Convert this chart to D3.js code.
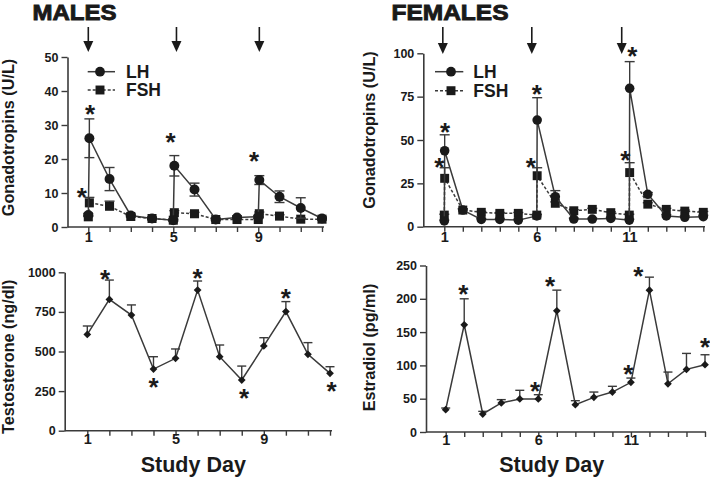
<!DOCTYPE html>
<html><head><meta charset="utf-8">
<script src="https://cdn.jsdelivr.net/npm/d3@7"></script>
<style>body{margin:0;background:#fff}svg{display:block;font-family:"Liberation Sans",Arial,sans-serif}</style>
</head><body>
<script>
// ---------- DATA ----------
const maleDays = [1, 1.05, 2, 3, 4, 5, 5.05, 6, 7, 8, 9, 9.05, 10, 11, 12];
const maleLH = [3.5, 26.1, 14.1, 3.4, 2.5, 2.0, 18.0, 11.0, 2.2, 2.8, 3.0, 13.8, 8.9, 5.6, 2.5];
const maleLHErr = [0.4, 5.7, 3.4, 0.4, 0.3, 0.3, 3.0, 1.9, 0.3, 0.4, 0.4, 1.3, 1.7, 3.0, 0.4];
const maleFSH = [3.0, 7.1, 6.1, 3.1, 2.5, 2.0, 4.2, 3.9, 2.2, 2.2, 2.2, 3.9, 3.2, 2.3, 2.3];
const maleFSHErr = [0.3, 1.6, 1.5, 0.3, 0.3, 0.3, 0.6, 0.4, 0.3, 0.3, 0.3, 0.5, 0.4, 0.3, 0.3];
const maleDoseDays = [1, 5.15, 9.05];
const maleGonStars = [{day:1.08,v:34.4},{day:0.69,v:9.9},{day:4.87,v:26.1},{day:8.8,v:20.6}];

const femaleDays = [1, 1.02, 2, 3, 4, 5, 6, 6.02, 7, 8, 9, 10, 11, 11.02, 12, 13, 14, 15];
const femaleLH = [3.3, 43.8, 9.6, 4.2, 4.2, 3.8, 6.2, 61.5, 17.3, 4.4, 4.4, 4.8, 3.8, 79.8, 18.7, 6.2, 5.4, 5.8];
const femaleLHErr = [0.5, 9.2, 0.8, 0.5, 0.5, 0.5, 0.8, 12.9, 3.5, 0.5, 0.5, 0.5, 0.5, 15.4, 1.0, 0.8, 0.8, 0.8];
const femaleFSH = [6.7, 27.9, 9.6, 8.3, 7.7, 7.7, 6.7, 29.4, 13.5, 9.2, 10.0, 8.1, 6.7, 31.2, 13.0, 10.0, 9.0, 8.3];
const femaleFSHErr = [0.5, 6.1, 0.6, 0.5, 0.5, 0.5, 0.5, 4.6, 0.8, 0.6, 0.6, 0.5, 0.5, 5.7, 0.8, 0.6, 0.6, 0.5];
const femaleDoseDays = [0.92, 5.73, 10.59];
const femaleGonStars = [{day:1.04,v:57.1},{day:0.73,v:36.6},{day:6.0,v:78.8},{day:5.68,v:36.6},{day:11.16,v:100.9},{day:10.78,v:40.8}];

const testoDays = [1,2,3,4,5,6,7,8,9,10,11,12];
const testosterone = [608, 829, 730, 389, 457, 888, 467, 320, 535, 752, 482, 362];
const testoErr = [53, 122, 64, 78, 59, 57, 74, 88, 52, 63, 74, 42];
const testoStars = [{day:1.8,v:983},{day:4,v:299},{day:6,v:987},{day:8.1,v:232},{day:10,v:861},{day:12.07,v:278}];

const estrDays = [1,2,3,4,5,6,7,8,9,10,11,12,13,14,15];
const estradiol = [33.5, 161, 27, 43.6, 49.6, 49.6, 182, 41, 52, 60, 74.6, 213, 72.4, 94, 101];
const estrErr = [2.5, 39, 4, 5, 13, 6.4, 31, 6, 8, 8.6, 6.4, 19.5, 17.6, 24, 15];
const estrStars = [{day:1.95,v:213},{day:5.82,v:68},{day:6.63,v:225.7},{day:10.86,v:93},{day:11.4,v:240.7},{day:15,v:133}];

const maleTickDays = d3.range(1, 13);
const femaleTickDays = d3.range(1, 16);
const maleTickLabels = [1, 5, 9];
const femaleTickLabels = [1, 6, 11];
const gonTicks = [0, 10, 20, 30, 40, 50];
const gonTicksF = [0, 25, 50, 75, 100];
const testoTicks = [0, 250, 500, 750, 1000];
const estrTicks = [0, 50, 100, 150, 200, 250];

// ---------- DRAW ----------
const INK = "#1a1a1a", LINE = "#3a3a3a";
const svg = d3.select("body").append("svg").attr("width", 710).attr("height", 477);

function makeAxes(p) {
  const x = d3.scaleLinear().domain([p.tickDays[0], p.tickDays[p.tickDays.length-1]]).range(p.xr);
  const y = d3.scaleLinear().domain([0, p.yTicks[p.yTicks.length-1]]).range(p.yr);
  const ya = svg.append("g").attr("transform", `translate(${p.yx},0)`)
    .call(d3.axisLeft(y).tickValues(p.yTicks).tickFormat(d3.format("d")).tickSize(6).tickSizeOuter(0).tickPadding(3));
  ya.select(".domain").attr("stroke", LINE).attr("stroke-width", 1.6);
  ya.selectAll(".tick line").attr("stroke", LINE).attr("stroke-width", 1.4);
  ya.selectAll(".tick text").attr("font-size", 12.5).attr("font-weight", "bold").attr("fill", INK)
    .attr("font-family", "Liberation Sans, Arial, sans-serif");
  const xa = svg.append("g").attr("transform", `translate(0,${p.yr[0]})`)
    .call(d3.axisBottom(x).tickValues(p.tickDays).tickSize(5).tickSizeOuter(0)
      .tickFormat(d => p.tickLabels.includes(d) ? String(d) : ""));
  xa.select(".domain").attr("d", `M${p.yx},0H${p.xEnd}`).attr("stroke", LINE).attr("stroke-width", 1.6);
  xa.selectAll(".tick line").attr("stroke", LINE).attr("stroke-width", 1.4);
  xa.selectAll(".tick text").attr("font-size", 14.5).attr("font-weight", "bold").attr("fill", INK)
    .attr("dy", null).attr("y", p.xLabelDY)
    .attr("font-family", "Liberation Sans, Arial, sans-serif");
  svg.append("text").attr("transform", `translate(${p.ylabX},${p.ylabY}) rotate(-90)`)
    .attr("text-anchor", "middle").attr("font-size", 16.2).attr("font-weight", "bold").attr("fill", INK)
    .text(p.ylabel);
  return {x, y};
}

function series(s, days, vals, errs, opts) {
  const {x, y} = s;
  const pts = days.map((d, i) => ({d, v: vals[i], e: errs[i]}));
  const g = svg.append("g");
  pts.forEach(p => {
    const lo = opts.both ? p.v - p.e : p.v;
    g.append("line").attr("x1", x(p.d)).attr("x2", x(p.d)).attr("y1", y(lo)).attr("y2", y(p.v + p.e))
      .attr("stroke", LINE).attr("stroke-width", 1.4);
    g.append("line").attr("x1", x(p.d) - opts.cap).attr("x2", x(p.d) + opts.cap)
      .attr("y1", y(p.v + p.e)).attr("y2", y(p.v + p.e)).attr("stroke", LINE).attr("stroke-width", 1.4);
    if (opts.both) g.append("line").attr("x1", x(p.d) - opts.cap).attr("x2", x(p.d) + opts.cap)
      .attr("y1", y(lo)).attr("y2", y(lo)).attr("stroke", LINE).attr("stroke-width", 1.4);
  });
  svg.append("path").datum(pts)
    .attr("d", d3.line().x(p => x(p.d)).y(p => y(p.v)))
    .attr("fill", "none").attr("stroke", LINE).attr("stroke-width", 1.5)
    .attr("stroke-dasharray", opts.dash || null);
  svg.append("g").selectAll("path").data(pts).join("path")
    .attr("transform", p => `translate(${x(p.d)},${y(p.v)})${opts.rot ? " rotate(45)" : ""}`)
    .attr("d", d3.symbol().type(opts.sym).size(opts.size))
    .attr("fill", INK);
}

function stars(s, list, size) {
  svg.append("g").selectAll("text").data(list).join("text")
    .attr("x", d => s.x(d.day)).attr("y", d => s.y(d.v) + size * 0.5)
    .attr("text-anchor", "middle").attr("font-size", size).attr("font-weight", "bold").attr("fill", INK)
    .text("*");
}

function arrows(s, days, y0, y1) {
  days.forEach(d => {
    const cx = s.x(d);
    svg.append("line").attr("x1", cx).attr("x2", cx).attr("y1", y0).attr("y2", y1 - 8)
      .attr("stroke", INK).attr("stroke-width", 1.6);
    svg.append("path").attr("d", `M${cx-5},${y1-11}L${cx+5},${y1-11}L${cx},${y1}Z`).attr("fill", INK);
  });
}

function legend(x0, x1, xm, xt, yLH, yFSH) {
  svg.append("line").attr("x1", x0).attr("x2", x1).attr("y1", yLH).attr("y2", yLH).attr("stroke", LINE).attr("stroke-width", 1.5);
  svg.append("path").attr("transform", `translate(${xm},${yLH})`).attr("d", d3.symbol().type(d3.symbolCircle).size(75)).attr("fill", INK);
  svg.append("line").attr("x1", x0).attr("x2", x1).attr("y1", yFSH).attr("y2", yFSH).attr("stroke", LINE).attr("stroke-width", 1.5).attr("stroke-dasharray", "3,2");
  svg.append("path").attr("transform", `translate(${xm},${yFSH})`).attr("d", d3.symbol().type(d3.symbolSquare).size(80)).attr("fill", INK);
  svg.append("text").attr("x", xt).attr("y", yLH + 6).attr("font-size", 17.5).attr("font-weight", "bold").attr("fill", INK).text("LH");
  svg.append("text").attr("x", xt).attr("y", yFSH + 6).attr("font-size", 17.5).attr("font-weight", "bold").attr("fill", INK).text("FSH");
}

// Titles
svg.append("text").attr("x", 32.5).attr("y", 19.5).attr("font-size", 22).attr("font-weight", "bold")
  .attr("fill", INK).attr("stroke", INK).attr("stroke-width", 0.9).attr("textLength", 84).attr("lengthAdjust", "spacingAndGlyphs").text("MALES");
svg.append("text").attr("x", 391.5).attr("y", 19.5).attr("font-size", 22).attr("font-weight", "bold")
  .attr("fill", INK).attr("stroke", INK).attr("stroke-width", 0.9).attr("textLength", 117).attr("lengthAdjust", "spacingAndGlyphs").text("FEMALES");

// Panel TL: male gonadotropins
const tl = makeAxes({tickDays: maleTickDays, tickLabels: maleTickLabels, yTicks: gonTicks,
  xr: [88.3, 322], yr: [227, 57], yx: 67.5, xEnd: 324, xLabelDY: 15,
  ylabel: "Gonadotropins (U/L)", ylabX: 13.5, ylabY: 137.5});
series(tl, maleDays, maleFSH, maleFSHErr, {sym: d3.symbolSquare, size: 82, dash: "3,2", cap: 5, both: false});
series(tl, maleDays, maleLH, maleLHErr, {sym: d3.symbolCircle, size: 78, cap: 5, both: true});
stars(tl, maleGonStars, 26);
arrows(tl, maleDoseDays, 27, 52);
legend(87.7, 115, 100, 126, 71.7, 90);

// Panel TR: female gonadotropins
const tr = makeAxes({tickDays: femaleTickDays, tickLabels: femaleTickLabels, yTicks: gonTicksF,
  xr: [444.3, 703.3], yr: [226.7, 53.3], yx: 423.3, xEnd: 705, xLabelDY: 15,
  ylabel: "Gonadotropins (U/L)", ylabX: 375, ylabY: 130});
series(tr, femaleDays, femaleFSH, femaleFSHErr, {sym: d3.symbolSquare, size: 80, dash: "3,2", cap: 5, both: false});
series(tr, femaleDays, femaleLH, femaleLHErr, {sym: d3.symbolCircle, size: 72, cap: 5, both: false});
stars(tr, femaleGonStars, 26);
arrows(tr, femaleDoseDays, 27, 54);
legend(435, 463.3, 451, 473.3, 71.7, 90.7);

// Panel BL: testosterone
const bl = makeAxes({tickDays: maleTickDays, tickLabels: maleTickLabels, yTicks: testoTicks,
  xr: [87.3, 330], yr: [430.7, 272.3], yx: 64.7, xEnd: 332, xLabelDY: 13,
  ylabel: "Testosterone (ng/dl)", ylabX: 13.5, ylabY: 356.7});
series(bl, testoDays, testosterone, testoErr, {sym: d3.symbolSquare, size: 30, rot: true, cap: 4.5, both: false});
stars(bl, testoStars, 26);

// Panel BR: estradiol
const br = makeAxes({tickDays: femaleTickDays, tickLabels: femaleTickLabels, yTicks: estrTicks,
  xr: [445.7, 705], yr: [432, 265.5], yx: 426, xEnd: 706, xLabelDY: 13,
  ylabel: "Estradiol (pg/ml)", ylabX: 375, ylabY: 347.5});
series(br, estrDays, estradiol, estrErr, {sym: d3.symbolSquare, size: 30, rot: true, cap: 4.5, both: false});
stars(br, estrStars, 26);

// X titles
[193.3, 551.7].forEach(cx => svg.append("text").attr("x", cx).attr("y", 471.7).attr("text-anchor", "middle")
  .attr("font-size", 21.5).attr("font-weight", "bold").attr("fill", INK).text("Study Day"));
</script>
</body></html>
